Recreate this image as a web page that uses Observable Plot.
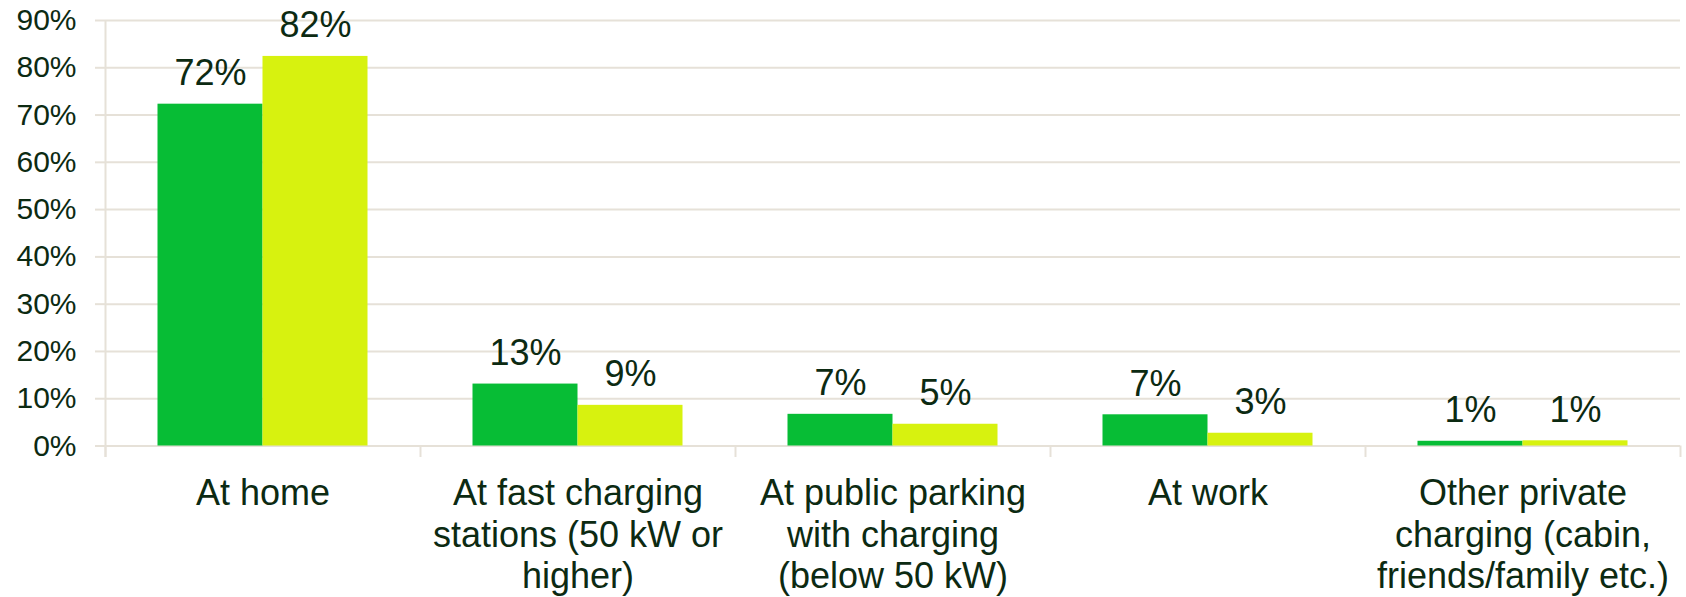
<!DOCTYPE html>
<html>
<head>
<meta charset="utf-8">
<script src="https://cdn.jsdelivr.net/npm/d3@7"></script>
<script src="https://cdn.jsdelivr.net/npm/@observablehq/plot@0.6"></script>
<style>
  html, body { margin: 0; padding: 0; background: #ffffff; }
  #chart svg { overflow: visible; display: block; }
</style>
</head>
<body>
<div id="chart"></div>
<script>
const categories = [
  "At home",
  "At fast charging stations (50 kW or higher)",
  "At public parking with charging (below 50 kW)",
  "At work",
  "Other private charging (cabin, friends/family etc.)"
];
const categoryLabels = [
  "At home",
  "At fast charging\nstations (50 kW or\nhigher)",
  "At public parking\nwith charging\n(below 50 kW)",
  "At work",
  "Other private\ncharging (cabin,\nfriends/family etc.)"
];
const series = ["Series 1", "Series 2"];
const series1Values = [0.723, 0.131, 0.067, 0.066, 0.010];
const series2Values = [0.824, 0.086, 0.046, 0.027, 0.011];
const yTicks = [0, 0.1, 0.2, 0.3, 0.4, 0.5, 0.6, 0.7, 0.8, 0.9];

const colors = ["#07bd35", "#d7f20f"];
const textColor = "#0c2a12";
const gridColor = "#e6e1d8";

const data = [];
categories.forEach((c, i) => {
  data.push({category: c, series: series[0], value: series1Values[i]});
  data.push({category: c, series: series[1], value: series2Values[i]});
});

const width = 1686, height = 597;
const marginLeft = 105, marginRight = 6, marginTop = 20, marginBottom = 151.5;
const facetWidth = (width - marginLeft - marginRight) / categories.length;
const bw = facetWidth / 3;
const fmt = d3.format(".0%");

const chart = Plot.plot({
  width, height, marginLeft, marginRight, marginTop, marginBottom,
  style: {fontFamily: "'Liberation Sans', Arial, sans-serif", background: "#ffffff", color: textColor},
  fx: {domain: categories, padding: 0, axis: null, label: null},
  x: {domain: series, paddingInner: 0, paddingOuter: 0.5, round: false, axis: null},
  y: {domain: [0, 0.9], axis: null},
  color: {domain: series, range: colors},
  marks: [
    Plot.gridY(yTicks, {stroke: gridColor, strokeOpacity: 1, strokeWidth: 2}),
    Plot.axisY({ticks: yTicks, tickFormat: fmt, tickSize: 10, tickPadding: 19, fontSize: 30,
      stroke: gridColor, strokeWidth: 2, fill: textColor, label: null}),
    Plot.ruleX([categories[0]], {fx: d => d, x: () => series[0], y1: () => yTicks[yTicks.length - 1], y2: () => 0,
      dx: -bw, insetBottom: -11.5, stroke: gridColor, strokeWidth: 2}),
    Plot.ruleX(categories, {fx: d => d, x: () => series[0], y1: () => 0, y2: () => 0,
      dx: -bw, insetBottom: -11.5, stroke: gridColor, strokeWidth: 2}),
    Plot.ruleX([categories[categories.length - 1]], {fx: d => d, x: () => series[1], y1: () => 0, y2: () => 0,
      dx: bw, insetBottom: -11.5, stroke: gridColor, strokeWidth: 2}),
    Plot.barY(data, {fx: "category", x: "series", y: "value", fill: "series"}),
    Plot.text(data, {fx: "category", x: "series", y: "value", text: d => fmt(d.value),
      lineAnchor: "bottom", dy: -19, fontSize: 36, fill: textColor}),
    Plot.axisFx({anchor: "bottom", tickSize: 0, tickPadding: 30, fontSize: 36, lineHeight: 1.15,
      fill: textColor, label: null,
      tickFormat: d => categoryLabels[categories.indexOf(d)]})
  ]
});
document.getElementById("chart").appendChild(chart);
</script>
</body>
</html>
